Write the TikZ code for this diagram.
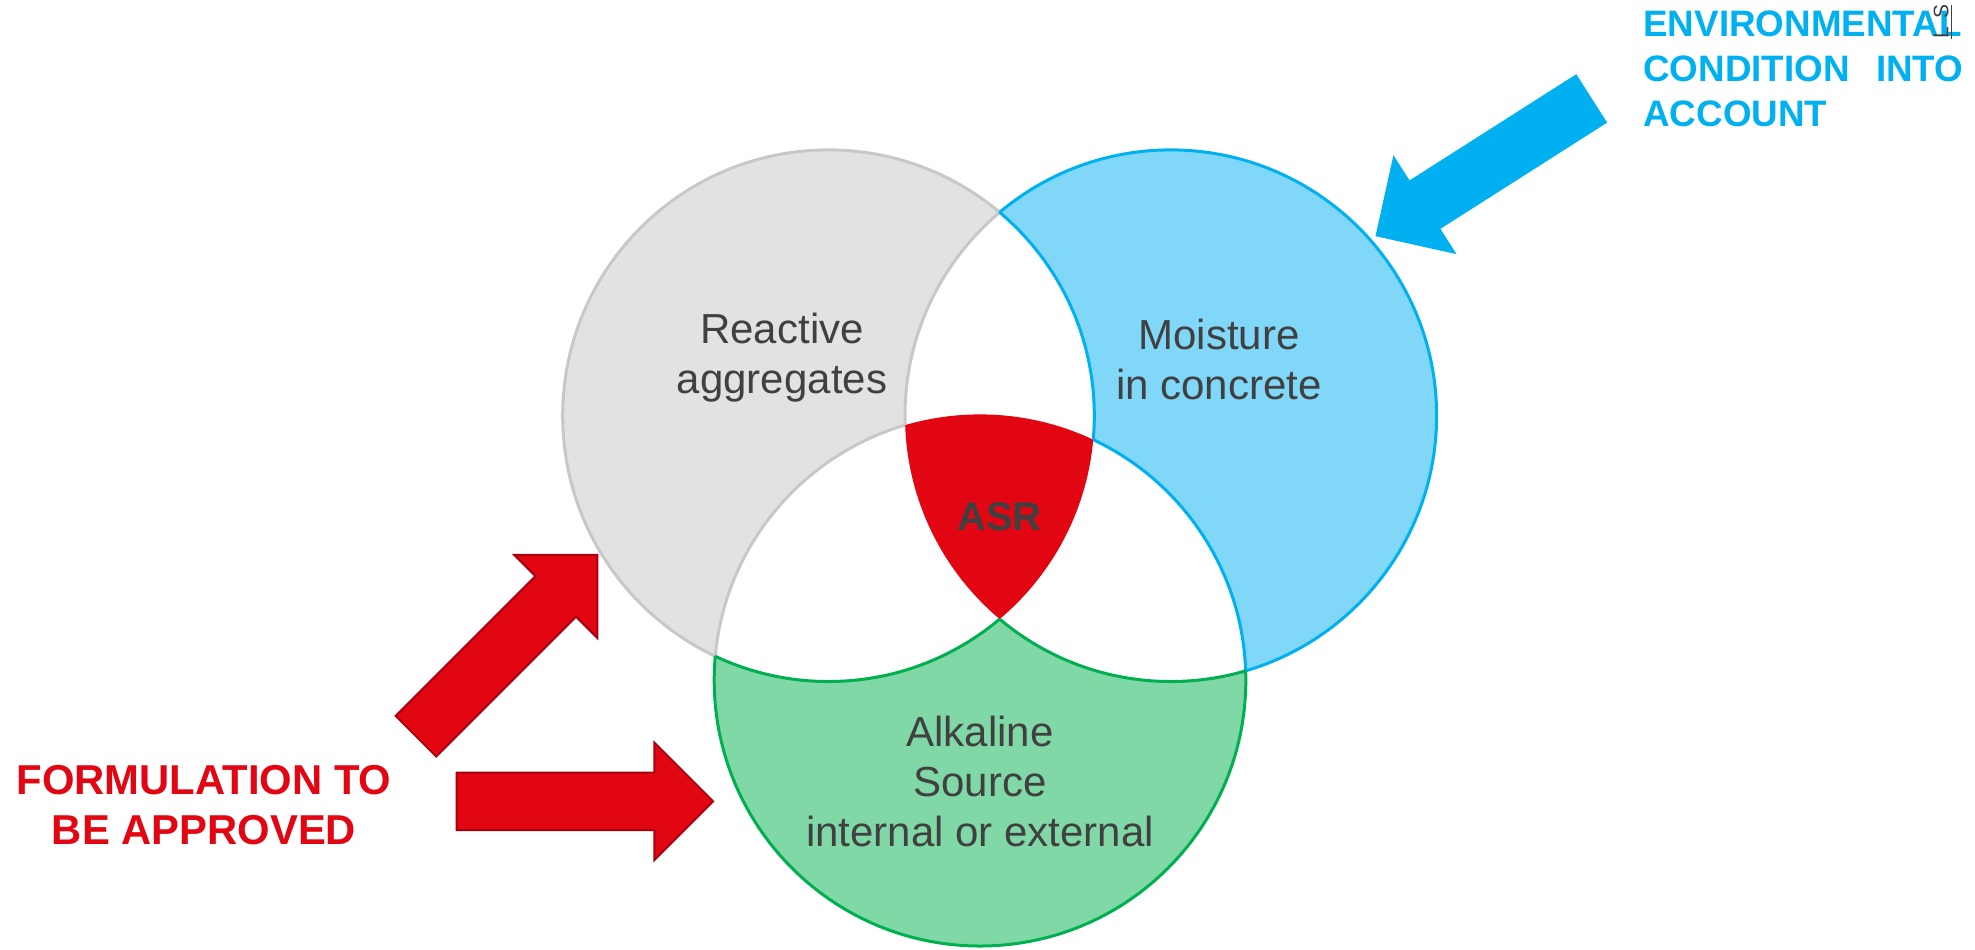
\documentclass[tikz,border=0pt]{standalone}
\usepackage{fontspec}
\setmainfont{Liberation Sans}

\definecolor{aggfill}{HTML}{E2E2E2}
\definecolor{aggline}{HTML}{C8C8C8}
\definecolor{moifill}{HTML}{80D7F8}
\definecolor{moiline}{HTML}{00B0F0}
\definecolor{alkfill}{HTML}{80D8A7}
\definecolor{alkline}{HTML}{00B050}
\definecolor{asrred}{HTML}{E20613}
\definecolor{arrowrim}{HTML}{A8000E}
\definecolor{labelgray}{HTML}{404040}

\tikzset{
  venntext/.style={inner sep=0pt, text=labelgray, align=center, font={\fontsize{21pt}{25pt}\selectfont}},
  asrtext/.style={inner sep=0pt, text=labelgray, font={\bfseries\fontsize{20pt}{24pt}\selectfont}},
  redtext/.style={inner sep=0pt, text=asrred, align=center, font={\bfseries\fontsize{20.9pt}{25pt}\selectfont}},
  bluetext/.style={inner sep=0pt, text=moiline, align=left, text width=160pt, font={\bfseries\fontsize{18.4pt}{22.5pt}\selectfont}},
  redarrow/.style={fill=asrred, draw=arrowrim, line width=1pt},
  bluearrow/.style={fill=moiline}
}

\begin{document}
\begin{tikzpicture}[x=0.5pt, y=-0.5pt]
  \def \rad {265.8}
  \useasboundingbox (0,0) rectangle (1975,949);

  \coordinate (agg) at (828.5,415.7);
  \coordinate (moi) at (1170.8,415.7);
  \coordinate (alk) at (980,680.2);

  % circle fills, white overlaps, red centre
  \fill[aggfill] (agg) circle (\rad);
  \fill[moifill] (moi) circle (\rad);
  \fill[alkfill] (alk) circle (\rad);
  \foreach \a/\b in {agg/moi, agg/alk, moi/alk} {
    \begin{scope}
      \clip (\a) circle (\rad);
      \fill[white] (\b) circle (\rad);
    \end{scope}
  }
  \begin{scope}
    \clip (agg) circle (\rad);
    \clip (moi) circle (\rad);
    \fill[asrred] (alk) circle (\rad);
  \end{scope}

  % rims of the single-colour parts
  \foreach \a/\b/\c/\col in {agg/moi/alk/aggline, moi/agg/alk/moiline, alk/agg/moi/alkline} {
    \begin{scope}[even odd rule]
      \clip (-20,-20) rectangle (2000,970) (\b) circle (\rad);
      \clip (-20,-20) rectangle (2000,970) (\c) circle (\rad);
      \draw[draw=\col, line width=1.5pt] (\a) circle (\rad);
    \end{scope}
    \begin{scope}[even odd rule]
      \clip (\a) circle (\rad);
      \clip (-20,-20) rectangle (2000,970) (\c) circle (\rad);
      \draw[draw=\col, line width=1.5pt] (\b) circle (\rad);
    \end{scope}
    \begin{scope}[even odd rule]
      \clip (\a) circle (\rad);
      \clip (-20,-20) rectangle (2000,970) (\b) circle (\rad);
      \draw[draw=\col, line width=1.5pt] (\c) circle (\rad);
    \end{scope}
  }

  % block arrows
  \foreach \px/\py/\ang/\sty in {416/736.2/45/redarrow, 456.7/801.4/0/redarrow, 1591.7/98.4/212.5/bluearrow}
    \path[\sty, shift={(\px,\py)}, rotate=\ang]
      (0,-28.7) -- (197.7,-28.7) -- (197.7,-58.7) -- (256.4,0)
      -- (197.7,58.7) -- (197.7,28.7) -- (0,28.7) -- cycle;

  \node[venntext] (aggtext) at (782,358) {Reactive\\aggregates};
  \node[venntext] (moitext) at (1219,359) {Moisture\\in concrete};
  \node[venntext] (alktext) at (980,781) {Alkaline\\Source\\internal or external};
  \node[asrtext] (asr) at (999.5,517) {ASR};

  \node[redtext] (formulation) at (204,805) {FORMULATION TO\\BE APPROVED};
  \node[bluetext, anchor=west] (environment) at (1643,69) {ENVIRONMENTAL\\CONDITION\hfill INTO\\ACCOUNT};

  \node[rotate=90, anchor=west, inner sep=0pt, text=labelgray, font={\fontsize{10.5pt}{12pt}\selectfont}] (slidemark) at (1943,39) {\underline{L\hspace{4pt}S}};
\end{tikzpicture}
\end{document}
